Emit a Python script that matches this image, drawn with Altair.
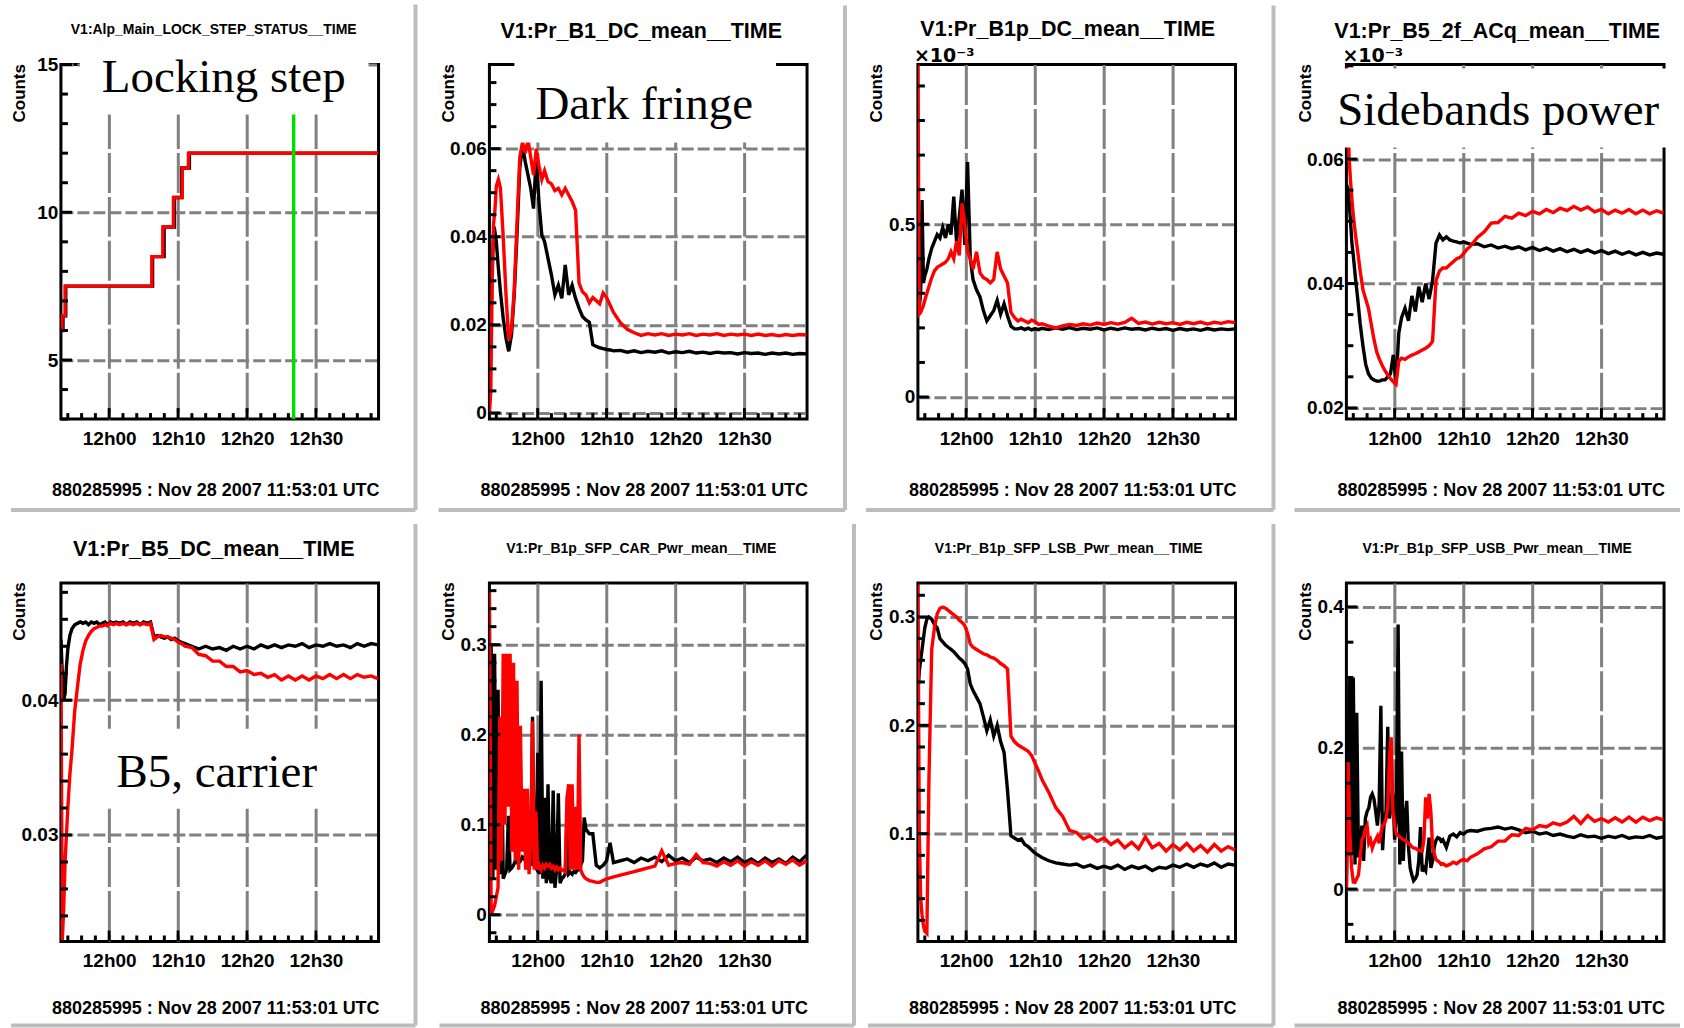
import altair as alt
import pandas as pd

# ------------------------------------------------------------------ data
BASE_UTC = "2007-11-28 11:53:00"          # left edge of every time axis
X_SPAN_MIN = 46.08                         # minutes shown on each panel
X_MAJOR_TIMES = ["2007-11-28 12:00:00", "2007-11-28 12:10:00",
                 "2007-11-28 12:20:00", "2007-11-28 12:30:00"]
FOOTER = "880285995 : Nov 28 2007 11:53:01 UTC"

TITLES = [
    "V1:Alp_Main_LOCK_STEP_STATUS__TIME",
    "V1:Pr_B1_DC_mean__TIME",
    "V1:Pr_B1p_DC_mean__TIME",
    "V1:Pr_B5_2f_ACq_mean__TIME",
    "V1:Pr_B5_DC_mean__TIME",
    "V1:Pr_B1p_SFP_CAR_Pwr_mean__TIME",
    "V1:Pr_B1p_SFP_LSB_Pwr_mean__TIME",
    "V1:Pr_B1p_SFP_USB_Pwr_mean__TIME",
]
ANNOTATIONS = {0: "Locking step", 1: "Dark fringe", 3: "Sidebands power", 4: "B5, carrier"}
EXPONENT_PANELS = [2, 3]
EXPONENT_TEXT = "\u00d710\u207b\u00b3"

# minutes after 11:53:00
T_STD = [0.0, 0.2, 0.4, 0.6, 0.8, 1.0, 1.3, 1.6,
         2.0, 2.4, 2.8, 3.2, 3.6, 4.0, 4.4, 4.8, 5.2, 5.6, 6.0, 6.4, 6.8, 7.2, 7.6, 8.0,
         8.5, 9.0, 9.5, 10.0, 10.5, 11.0, 11.5, 12.0, 12.5, 13.0, 13.5, 14.0, 14.5, 15.0,
         15.5, 16.0, 16.5, 17.0, 17.5, 18.0,
         19, 20, 21, 22, 23, 24, 25, 26, 27, 28, 29, 30, 31, 32, 33, 34, 35, 36, 37, 38,
         39, 40, 41, 42, 43, 44, 45, 46]
T_DENSE = [0.0, 0.25, 0.5, 0.75, 1.0, 1.25, 1.5, 1.75, 2.0,
           2.25, 2.5, 2.75, 3.0, 3.25, 3.5, 3.75, 4.0,
           4.25, 4.5, 4.75, 5.0, 5.25, 5.5, 5.75, 6.0,
           6.25, 6.5, 6.75, 7.0, 7.25, 7.5, 7.75, 8.0,
           8.25, 8.5, 8.75, 9.0, 9.25, 9.5, 9.75, 10.0,
           10.25, 10.5, 10.75, 11.0, 11.25, 11.5, 11.75, 12.0,
           12.25, 12.5, 12.75, 13.0, 13.25, 13.5, 13.75, 14.0,
           14.5, 15.0, 15.5, 16.0, 16.5, 17.0, 17.5, 18.0,
           19, 20, 21, 22, 23, 24, 25, 26, 27, 28, 29, 30, 31, 32, 33, 34, 35, 36, 37, 38,
           39, 40, 41, 42, 43, 44, 45, 46]

# Panel 1: lock step (step lines)
P1_T_BLACK = [0.0, 0.3, 0.7, 13.3, 14.97, 16.47, 17.53, 18.64, 46.0]
P1_BLACK = [6.0, 6.5, 7.5, 8.5, 9.5, 10.5, 11.5, 12.0, 12.0]
P1_T_RED = [0.0, 0.15, 0.6, 13.18, 14.78, 16.32, 17.6, 18.5, 46.0]
P1_RED = [6.0, 6.5, 7.5, 8.5, 9.5, 10.5, 11.5, 12.0, 12.0]
P1_GREEN_T = [33.76]

# Panel 2: B1 DC (T_STD)
P2_BLACK = [0.002, 0.0177, 0.0328, 0.0404, 0.0411, 0.0389, 0.0328, 0.0275,
            0.0215, 0.017, 0.014, 0.0177, 0.0268, 0.0404, 0.0555, 0.0608, 0.057, 0.054,
            0.0509, 0.0464, 0.0585, 0.0475, 0.0404, 0.0389,
            0.0351, 0.0313, 0.0268, 0.029, 0.026, 0.0336, 0.0268, 0.029, 0.026, 0.0238,
            0.0219, 0.0211, 0.0206, 0.0155, 0.0151, 0.0148, 0.0146, 0.0144, 0.0143, 0.0141,
            0.0142, 0.0138, 0.0141, 0.0137, 0.0140, 0.0138, 0.0141, 0.0136, 0.0139, 0.0137,
            0.0140, 0.0136, 0.0138, 0.0135, 0.0138, 0.0136, 0.0137, 0.0134, 0.0137, 0.0135,
            0.0136, 0.0133, 0.0136, 0.0134, 0.0136, 0.0133, 0.0135, 0.0134]
P2_RED = [0.0, 0.005, 0.030, 0.043, 0.046, 0.0515, 0.053, 0.051,
          0.040, 0.027, 0.0165, 0.019, 0.028, 0.043, 0.058, 0.0615, 0.059, 0.062,
          0.058, 0.054, 0.060, 0.056, 0.053, 0.055,
          0.0525, 0.052, 0.0505, 0.051, 0.0495, 0.051, 0.0495, 0.048, 0.046, 0.0295,
          0.0275, 0.0268, 0.025, 0.0262, 0.0255, 0.0248, 0.0272, 0.0262, 0.0245, 0.0228,
          0.0205, 0.019, 0.0182, 0.0176, 0.0180, 0.0177, 0.0180, 0.0176, 0.0179, 0.0177,
          0.0180, 0.0176, 0.0179, 0.0177, 0.0180, 0.0176, 0.0179, 0.0177, 0.0179, 0.0176,
          0.0179, 0.0176, 0.0178, 0.0175, 0.0178, 0.0176, 0.0178, 0.0177]

# Panel 3: B1p DC, x1e-3 (T_STD)
P3_BLACK = [0.255, 0.26, 0.30, 0.57, 0.33, 0.35, 0.37, 0.40,
            0.43, 0.45, 0.47, 0.46, 0.49, 0.46, 0.50, 0.47, 0.58, 0.45, 0.52, 0.60,
            0.44, 0.68, 0.40, 0.34,
            0.31, 0.29, 0.25, 0.22, 0.235, 0.25, 0.28, 0.24, 0.27, 0.235, 0.205, 0.197,
            0.197, 0.20, 0.195, 0.199, 0.194, 0.198, 0.195, 0.199,
            0.195, 0.20, 0.196, 0.201, 0.195, 0.199, 0.196, 0.2, 0.194, 0.199, 0.195, 0.2,
            0.196, 0.198, 0.194, 0.199, 0.195, 0.198, 0.193, 0.198, 0.194, 0.197, 0.193,
            0.198, 0.194, 0.197, 0.195, 0.197]
P3_RED = [0.96, 0.24, 0.245, 0.255, 0.265, 0.28, 0.30, 0.32,
          0.345, 0.365, 0.375, 0.38, 0.385, 0.39, 0.40, 0.42, 0.40, 0.45, 0.41, 0.56,
          0.50, 0.42, 0.40, 0.37,
          0.42, 0.36, 0.345, 0.34, 0.33, 0.34, 0.42, 0.37, 0.35, 0.33, 0.245, 0.23,
          0.22, 0.225, 0.22, 0.215, 0.222, 0.218, 0.21, 0.212,
          0.205, 0.20, 0.206, 0.21, 0.207, 0.212, 0.208, 0.214, 0.21, 0.215, 0.211, 0.216,
          0.228, 0.213, 0.217, 0.211, 0.216, 0.212, 0.215, 0.21, 0.216, 0.212, 0.217,
          0.211, 0.216, 0.213, 0.218, 0.215]

# Panel 4: B5 2f ACq, x1e-3 (T_STD)
P4_BLACK = [0.056, 0.0552, 0.053, 0.050, 0.0465, 0.0445, 0.041, 0.038,
            0.0335, 0.030, 0.027, 0.0255, 0.0248, 0.0245, 0.0243, 0.0243, 0.0245, 0.0245,
            0.025, 0.0255, 0.0285, 0.024, 0.032, 0.0345,
            0.036, 0.034, 0.038, 0.0355, 0.0395, 0.037, 0.040, 0.0375, 0.0405, 0.0465,
            0.0478, 0.047, 0.0475, 0.047, 0.0468, 0.0467, 0.0465, 0.0467, 0.0465, 0.0463,
            0.0464, 0.0459, 0.0462, 0.0457, 0.0460, 0.0456, 0.0459, 0.0454, 0.0458, 0.0453,
            0.0457, 0.0452, 0.0456, 0.0451, 0.0455, 0.0450, 0.0454, 0.0449, 0.0453, 0.0448,
            0.0452, 0.0447, 0.0451, 0.0446, 0.0450, 0.0446, 0.0449, 0.0447]
P4_RED = [0.075, 0.070, 0.060, 0.0565, 0.0535, 0.051, 0.048, 0.0455,
          0.042, 0.039, 0.0375, 0.036, 0.0335, 0.031, 0.029, 0.0278, 0.0268, 0.026,
          0.0253, 0.0247, 0.0242, 0.0238, 0.0275, 0.028,
          0.0278, 0.0282, 0.0285, 0.0287, 0.029, 0.0293, 0.0296, 0.030, 0.0307, 0.0405,
          0.042, 0.0425, 0.0425, 0.043, 0.0435, 0.044, 0.0442, 0.0448, 0.0455, 0.046,
          0.0474, 0.0483, 0.0497, 0.0498, 0.0508, 0.0505, 0.0513, 0.0509, 0.0516, 0.0512,
          0.0519, 0.0514, 0.0521, 0.0517, 0.0524, 0.0518, 0.0523, 0.0515, 0.0519, 0.0512,
          0.0518, 0.0513, 0.0519, 0.0512, 0.0518, 0.0512, 0.0517, 0.0513]

# Panel 5: B5 DC (T_STD)
P5_BLACK = [0.0445, 0.042, 0.040, 0.0405, 0.0425, 0.0438, 0.0448, 0.0453,
            0.0456, 0.0457, 0.0458, 0.0457, 0.0458, 0.0456, 0.0458, 0.0457, 0.0458, 0.0456,
            0.0457, 0.0458, 0.0456, 0.0458, 0.0457, 0.0458,
            0.0457, 0.0458, 0.0456, 0.0458, 0.0457, 0.0458, 0.0456, 0.0458, 0.0457, 0.0458,
            0.0447, 0.0448, 0.0447, 0.0446, 0.0447, 0.0445, 0.0446, 0.0444, 0.0443, 0.0442,
            0.0440, 0.0438, 0.0440, 0.0438, 0.0439, 0.0437, 0.0440, 0.0438, 0.0440, 0.0438,
            0.0441, 0.0439, 0.0441, 0.0439, 0.0441, 0.0440, 0.0442, 0.0439, 0.0441, 0.0440,
            0.0442, 0.0440, 0.0441, 0.0439, 0.0442, 0.0440, 0.0442, 0.0441]
P5_RED = [0.0427, 0.0222, 0.0245, 0.028, 0.030, 0.032, 0.0345, 0.0363,
          0.0392, 0.041, 0.0427, 0.0437, 0.0444, 0.0448, 0.0451, 0.0453, 0.0454, 0.0455,
          0.0455, 0.0456, 0.0455, 0.0457, 0.0456, 0.0457,
          0.0456, 0.0457, 0.0456, 0.0457, 0.0456, 0.0457, 0.0456, 0.0457, 0.0456, 0.0457,
          0.0445, 0.0447, 0.0448, 0.0447, 0.0447, 0.0446, 0.0445, 0.0443, 0.0442, 0.044,
          0.0439, 0.0434, 0.0433, 0.0429, 0.0429, 0.0425, 0.0425, 0.0421, 0.0422, 0.0419,
          0.0420, 0.0417, 0.0419, 0.0415, 0.0418, 0.0415, 0.0418, 0.0415, 0.0418, 0.0416,
          0.0419, 0.0416, 0.0419, 0.0416, 0.0419, 0.0417, 0.0418, 0.0416]

# Panel 6: B1p SFP carrier (T_DENSE)
P6_BLACK = [0.0, 0.30, 0.04, 0.29, 0.05, 0.25, 0.045, 0.20, 0.04,
            0.045, 0.05, 0.11, 0.05, 0.052, 0.055, 0.06, 0.058,
            0.062, 0.06, 0.064, 0.062, 0.066, 0.063, 0.06, 0.058,
            0.22, 0.055, 0.052, 0.18, 0.045, 0.26, 0.04, 0.13,
            0.035, 0.145, 0.04, 0.035, 0.138, 0.03, 0.05, 0.135,
            0.035, 0.04, 0.042, 0.045, 0.11, 0.045, 0.047, 0.045,
            0.048, 0.047, 0.05, 0.05, 0.055, 0.06, 0.108, 0.095,
            0.09, 0.09, 0.055, 0.052, 0.055, 0.06, 0.08, 0.058,
            0.06, 0.062, 0.058, 0.063, 0.06, 0.064, 0.059, 0.066, 0.06, 0.063, 0.058, 0.064,
            0.06, 0.062, 0.058, 0.063, 0.059, 0.064, 0.058, 0.062, 0.057, 0.063, 0.058,
            0.062, 0.057, 0.064, 0.059, 0.066]
P6_RED = [0.36, 0.0, 0.005, 0.01, 0.02, 0.03, 0.22, 0.06, 0.29,
          0.10, 0.29, 0.12, 0.29, 0.07, 0.28, 0.06, 0.26,
          0.05, 0.21, 0.07, 0.14, 0.05, 0.14, 0.045, 0.08,
          0.215, 0.05, 0.115, 0.05, 0.055, 0.05, 0.055, 0.052,
          0.056, 0.054, 0.056, 0.052, 0.054, 0.05, 0.053, 0.05,
          0.052, 0.049, 0.05, 0.048, 0.13, 0.145, 0.05, 0.145,
          0.05, 0.12, 0.05, 0.2, 0.05, 0.045, 0.042, 0.04,
          0.038, 0.037, 0.036, 0.036, 0.038, 0.04, 0.041, 0.042,
          0.044, 0.046, 0.048, 0.05, 0.052, 0.054, 0.071, 0.055, 0.057, 0.058, 0.056, 0.067,
          0.058, 0.057, 0.054, 0.059, 0.055, 0.06, 0.054, 0.059, 0.055, 0.06, 0.054,
          0.06, 0.056, 0.061, 0.055, 0.06]

# Panel 7: B1p SFP lower sideband (T_STD)
P7_BLACK = [0.23, 0.25, 0.26, 0.27, 0.28, 0.29, 0.298, 0.30,
            0.298, 0.293, 0.29, 0.28, 0.277, 0.274, 0.272, 0.27, 0.268, 0.265,
            0.262, 0.26, 0.257, 0.252, 0.238, 0.232,
            0.226, 0.22, 0.208, 0.195, 0.205, 0.19, 0.2, 0.185, 0.175, 0.14,
            0.098, 0.096, 0.094, 0.095, 0.09, 0.088, 0.085, 0.082, 0.08, 0.078,
            0.075, 0.073, 0.072, 0.071, 0.072, 0.069, 0.071, 0.068, 0.07, 0.068, 0.071, 0.067,
            0.07, 0.068, 0.07, 0.066, 0.069, 0.068, 0.071, 0.069, 0.072, 0.069, 0.072,
            0.07, 0.073, 0.069, 0.072, 0.071]
P7_RED = [0.33, 0.10, 0.04, 0.025, 0.015, 0.01, 0.008, 0.15,
          0.27, 0.29, 0.303, 0.308, 0.309, 0.308, 0.306, 0.304, 0.302, 0.30,
          0.297, 0.295, 0.292, 0.285, 0.275, 0.272,
          0.27, 0.268, 0.266, 0.265, 0.263, 0.262, 0.26, 0.257, 0.255, 0.252,
          0.19, 0.185, 0.182, 0.18, 0.178, 0.176, 0.172, 0.165, 0.158, 0.15,
          0.138, 0.124, 0.116, 0.103, 0.101, 0.095, 0.098, 0.093, 0.096, 0.09, 0.094, 0.087,
          0.092, 0.086, 0.097, 0.087, 0.091, 0.084, 0.09, 0.085, 0.091, 0.084, 0.089,
          0.083, 0.09, 0.084, 0.088, 0.085]

# Panel 8: B1p SFP upper sideband (T_DENSE)
P8_BLACK = [0.0, 0.18, 0.30, 0.05, 0.30, 0.035, 0.25, 0.045, 0.06,
            0.09, 0.04, 0.10, 0.11, 0.115, 0.13, 0.135, 0.128,
            0.11, 0.09, 0.12, 0.26, 0.055, 0.10, 0.11, 0.23,
            0.10, 0.12, 0.135, 0.07, 0.10, 0.375, 0.035, 0.195,
            0.04, 0.10, 0.125, 0.06, 0.03, 0.02, 0.012, 0.015,
            0.02, 0.04, 0.088, 0.025, 0.03, 0.026, 0.05, 0.073,
            0.03, 0.04, 0.06, 0.069, 0.073, 0.072, 0.068, 0.07,
            0.059, 0.075, 0.078, 0.074, 0.08, 0.078, 0.082, 0.083,
            0.082, 0.085, 0.086, 0.088, 0.085, 0.087, 0.084, 0.08, 0.082, 0.078, 0.08, 0.076,
            0.078, 0.075, 0.073, 0.077, 0.074, 0.075, 0.072, 0.075, 0.073, 0.076, 0.072,
            0.074, 0.073, 0.076, 0.072, 0.074]
P8_RED = [0.0, 0.18, 0.08, 0.03, 0.01, 0.0095, 0.015, 0.02, 0.045,
          0.07, 0.075, 0.085, 0.09, 0.065, 0.07, 0.058, 0.065,
          0.07, 0.075, 0.065, 0.08, 0.09, 0.092, 0.10, 0.116,
          0.19, 0.215, 0.11, 0.09, 0.078, 0.076, 0.074, 0.072,
          0.07, 0.069, 0.067, 0.065, 0.063, 0.06, 0.058, 0.058,
          0.056, 0.055, 0.054, 0.054, 0.07, 0.13, 0.10, 0.135,
          0.11, 0.06, 0.05, 0.042, 0.04, 0.038, 0.035, 0.036,
          0.033, 0.035, 0.038, 0.036, 0.04, 0.042, 0.04, 0.045,
          0.05, 0.057, 0.06, 0.068, 0.068, 0.077, 0.076, 0.086, 0.084, 0.09, 0.088, 0.094,
          0.091, 0.095, 0.103, 0.093, 0.104, 0.096, 0.1, 0.095, 0.101, 0.095, 0.102,
          0.095, 0.102, 0.097, 0.101, 0.098]

Y_DOMAINS = [[3, 15], [-0.0014, 0.0791], [-0.064, 0.962], [0.0182, 0.0752],
             [0.0221, 0.0487], [-0.0297, 0.3686], [0.0005, 0.3314], [-0.0743, 0.434]]
Y_MAJOR = [[5, 10, 15], [0, 0.02, 0.04, 0.06], [0, 0.5], [0.02, 0.04, 0.06],
           [0.03, 0.04], [0, 0.1, 0.2, 0.3], [0.1, 0.2, 0.3], [0, 0.2, 0.4]]
Y_MINOR = [(3, 15, 1), (0, 0.075, 0.005), (0, 0.9, 0.1), (0.02, 0.075, 0.005),
           (0.024, 0.048, 0.002), (-0.02, 0.36, 0.02), (0.02, 0.32, 0.02), (-0.05, 0.4, 0.05)]

SERIES = [
    [(P1_T_BLACK, P1_BLACK, "black", "step-after"), (P1_T_RED, P1_RED, "red", "step-after")],
    [(T_STD, P2_BLACK, "black", "linear"), (T_STD, P2_RED, "red", "linear")],
    [(T_STD, P3_BLACK, "black", "linear"), (T_STD, P3_RED, "red", "linear")],
    [(T_STD, P4_BLACK, "black", "linear"), (T_STD, P4_RED, "red", "linear")],
    [(T_STD, P5_BLACK, "black", "linear"), (T_STD, P5_RED, "red", "linear")],
    [(T_DENSE, P6_BLACK, "black", "linear"), (T_DENSE, P6_RED, "red", "linear")],
    [(T_STD, P7_BLACK, "black", "linear"), (T_STD, P7_RED, "red", "linear")],
    [(T_DENSE, P8_BLACK, "black", "linear"), (T_DENSE, P8_RED, "red", "linear")],
]

# ------------------------------------------------------------------ layout / style
W = 318
HEIGHTS = [355, 355, 355, 355, 359, 359, 359, 359]
COLORS = {"black": "#000000", "red": "#ff0000"}
GREEN = "#00dd00"
FRAME_GRAY = "#bdbdbd"
SANS = "Liberation Sans"
SERIF = "Liberation Serif"
LINE_W = 3.4

TITLE_POS = [(153, -35, 14), (152, -33, 21.5), (150, -35, 21.5), (151, -33, 21.5),
             (153, -33, 21.5), (152, -34, 14), (151, -34, 14), (151, -34, 14)]
BOXES = {0: ((19, 308, -3, 50), (163, 27)),
         1: ((25, 287, -3, 78), (155, 55)),
         3: ((-15, 324, 4, 83), (152, 61)),
         4: ((22, 316, 146, 226), (156, 204))}
FRAMES = [
    [(355, 355, -60, 446), (-50, 355, 446, 446)],
    [(356, 356, -59, 446), (-51, 356, 446, 446)],
    [(356, 356, -59, 446), (-52, 356, 446, 446)],
    [(-52, 334, 446, 446)],
    [(355, 355, -59, 443), (-50, 355, 443, 443)],
    [(365, 365, -59, 443), (-50, 365, 443, 443)],
    [(356, 356, -59, 443), (-50, 356, 443, 443)],
    [(-52, 334, 443, 443)],
]

base_ms = int(pd.Timestamp(BASE_UTC, tz="UTC").value // 1_000_000)


def to_ms(m):
    return base_ms + int(round(m * 60000))


x_major_ms = [int(pd.Timestamp(s, tz="UTC").value // 1_000_000) for s in X_MAJOR_TIMES]
x_minor_min = [m for m in range(1, 46, 2) if (m - 7) % 10 != 0]
ONE = pd.DataFrame({"k": [0]})


def panel(i):
    H = HEIGHTS[i]
    xenc = alt.X("t:T",
                 scale=alt.Scale(type="utc", domain=[to_ms(0), to_ms(X_SPAN_MIN)]),
                 axis=alt.Axis(values=x_major_ms, format="%Hh%M", title=None))
    yenc = alt.Y("v:Q",
                 scale=alt.Scale(domain=Y_DOMAINS[i], nice=False, zero=False),
                 axis=alt.Axis(values=Y_MAJOR[i], format="~g", title="Counts",
                               titleAngle=270, titleX=-41, titleY=-1,
                               titleAlign="right", titleBaseline="middle",
                               titleFontSize=17, titleFontWeight="bold", titleFont=SANS))
    layers = []
    for T, V, col, interp in SERIES[i]:
        assert len(T) == len(V), (i, col, len(T), len(V))
        df = pd.DataFrame({"t": [to_ms(m) for m in T], "v": V})
        layers.append(alt.Chart(df).mark_line(color=COLORS[col], strokeWidth=LINE_W,
                                              clip=True, interpolate=interp,
                                              strokeJoin="miter")
                      .encode(x=xenc, y=yenc))
    if i == 0:
        gdf = pd.DataFrame({"t": [to_ms(m) for m in P1_GREEN_T]})
        layers.append(alt.Chart(gdf).mark_rule(color=GREEN, strokeWidth=3.5).encode(x=xenc))

    # inward ticks
    xmin_df = pd.DataFrame({"t": [to_ms(m) for m in x_minor_min]})
    xmaj_df = pd.DataFrame({"t": x_major_ms})
    layers.append(alt.Chart(xmin_df).mark_rule(color="black", strokeWidth=3)
                  .encode(x=xenc, y=alt.value(H), y2=alt.value(H - 6)))
    layers.append(alt.Chart(xmaj_df).mark_rule(color="black", strokeWidth=3)
                  .encode(x=xenc, y=alt.value(H), y2=alt.value(H - 11)))
    a, b, s = Y_MINOR[i]
    n = int(round((b - a) / s))
    ymin_vals = [round(a + k * s, 6) for k in range(n + 1)]
    ymin_vals = [v for v in ymin_vals if all(abs(v - mj) > 1e-9 for mj in Y_MAJOR[i])]
    layers.append(alt.Chart(pd.DataFrame({"v": ymin_vals})).mark_rule(color="black", strokeWidth=3)
                  .encode(y=yenc, x=alt.value(0), x2=alt.value(7)))
    layers.append(alt.Chart(pd.DataFrame({"v": Y_MAJOR[i]})).mark_rule(color="black", strokeWidth=3)
                  .encode(y=yenc, x=alt.value(0), x2=alt.value(11)))

    # annotation box
    if i in BOXES:
        (x0, x1, y0, y1), (tx, ty) = BOXES[i]
        layers.append(alt.Chart(ONE).mark_rect(color="white", opacity=1)
                      .encode(x=alt.value(x0), x2=alt.value(x1), y=alt.value(y0), y2=alt.value(y1)))
        layers.append(alt.Chart(ONE).mark_text(text=ANNOTATIONS[i], font=SERIF, fontSize=47,
                                               align="center", baseline="alphabetic", color="black")
                      .encode(x=alt.value(tx), y=alt.value(ty)))
    # title
    cx, cy, fs = TITLE_POS[i]
    layers.append(alt.Chart(ONE).mark_text(text=TITLES[i], font=SANS, fontSize=fs, fontWeight="bold",
                                           align="center", baseline="middle", color="black")
                  .encode(x=alt.value(cx), y=alt.value(cy)))
    # footer
    layers.append(alt.Chart(ONE).mark_text(text=FOOTER, font=SANS, fontSize=18, fontWeight="bold",
                                           align="center", baseline="middle", color="black")
                  .encode(x=alt.value(155), y=alt.value(427)))
    if i in EXPONENT_PANELS:
        layers.append(alt.Chart(ONE).mark_text(text=EXPONENT_TEXT, font="DejaVu Sans", fontSize=19,
                                               fontWeight="bold", align="left",
                                               baseline="alphabetic", color="black")
                      .encode(x=alt.value(-4), y=alt.value(-3)))
    # screenshot frame shadows
    for (fx0, fx1, fy0, fy1) in FRAMES[i]:
        layers.append(alt.Chart(ONE).mark_rule(color=FRAME_GRAY, strokeWidth=4)
                      .encode(x=alt.value(fx0), x2=alt.value(fx1), y=alt.value(fy0), y2=alt.value(fy1)))

    return alt.layer(*layers).properties(width=W, height=H)


panels = [panel(i) for i in range(8)]

chart = alt.concat(
    *panels, columns=4, spacing={"row": 164, "column": 111}, bounds="flush",
    padding={"left": 7, "top": 0, "right": 0, "bottom": 0},
).configure_view(
    stroke="black", strokeWidth=3
).configure_axis(
    labelFont=SANS, labelFontWeight="bold", labelColor="black", labelFontSize=19,
    grid=True, gridColor="#808080", gridWidth=3, domain=False, ticks=False,
    labelOverlap=False,
).configure_axisX(
    gridDash=[40, 4], labelPadding=10, labelFontSize=19,
).configure_axisY(
    gridDash=[12, 4], labelPadding=3,
)

chart.save("out.html", embed_options={"renderer": "svg", "actions": False})
